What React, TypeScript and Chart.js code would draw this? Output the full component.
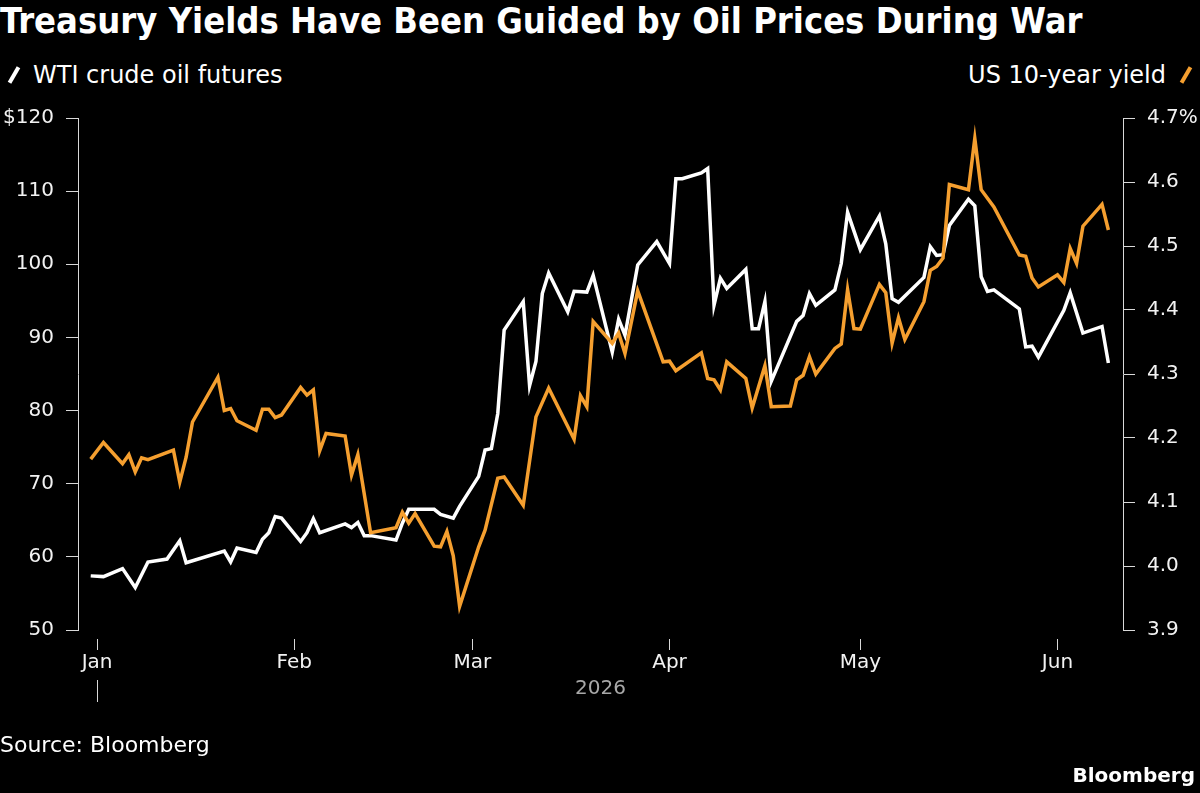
import React, { useEffect, useRef } from "react";
import { Chart, registerables } from "chart.js";

Chart.register(...registerables);

// Days counted from Jan 1, 2026 (day 0). -1 = Dec 31, 2025.
const oilDays = [
  -1, 1, 4, 6, 8, 11, 13, 14, 20, 21, 22, 25, 26, 27, 28, 29, 32, 33, 34, 35,
  39, 40, 41, 42, 43, 47, 48, 49, 53, 54, 56, 57, 60, 61, 62, 63, 64, 67, 68, 69,
  70, 71, 74, 75, 77, 78, 81, 82, 83, 85, 88, 90, 91, 92, 95, 96, 97, 98, 99, 102,
  103, 104, 105, 106, 110, 111, 112, 113, 116, 117, 118, 120, 123, 124, 125, 126, 130, 131, 132, 133,
  134, 137, 138, 139, 140, 141, 145, 146, 147, 148, 152, 153, 155, 158, 159,
];
const oilValues = [
  57.4, 57.3, 58.4, 55.8, 59.3, 59.7, 62.2, 59.2, 60.8, 59.3, 61.2, 60.6, 62.4, 63.3, 65.5, 65.3, 62.1, 63.3, 65.2, 63.3,
  64.5, 64.0, 64.7, 62.9, 62.9, 62.3, 64.6, 66.5, 66.5, 65.8, 65.3, 66.9, 71.0, 74.6, 74.8, 79.6, 91.0, 94.9, 83.4, 86.7,
  96.0, 98.8, 93.5, 96.3, 96.2, 98.5, 88.0, 92.5, 90.3, 99.9, 103.1, 100.1, 111.7, 111.7, 112.5, 113.1, 94.4, 98.1, 96.7, 99.3,
  91.2, 91.2, 94.9, 84.0, 92.2, 93.0, 96.0, 94.4, 96.5, 100.1, 107.1, 102.0, 106.6, 102.8, 95.3, 94.8, 98.2, 102.4, 101.2, 101.3,
  105.3, 108.9, 108.0, 98.3, 96.3, 96.5, 93.9, 88.7, 88.8, 87.3, 93.7, 96.1, 90.6, 91.5, 86.5,
];

const yieldDays = [
  -1, 1, 4, 5, 6, 7, 8, 12, 13, 14, 15, 19, 20, 21, 22, 25, 26, 27, 28, 29,
  32, 33, 34, 35, 36, 39, 40, 41, 43, 47, 48, 49, 50, 53, 54, 55, 56, 57, 60, 61,
  63, 64, 67, 69, 71, 75, 76, 77, 78, 81, 82, 83, 85, 89, 90, 91, 95, 96, 97, 98,
  99, 102, 103, 105, 106, 109, 110, 111, 112, 113, 116, 117, 118, 119, 120, 123, 124, 125, 126, 127,
  130, 131, 132, 133, 134, 137, 138, 139, 141, 145, 146, 147, 148, 151, 152, 153, 154, 155, 158, 159,
];
const yieldValues = [
  4.167, 4.193, 4.16, 4.174, 4.147, 4.169, 4.166, 4.181, 4.131, 4.17, 4.225, 4.295, 4.243, 4.246, 4.227, 4.212, 4.245, 4.245, 4.232, 4.236,
  4.279, 4.267, 4.275, 4.18, 4.207, 4.203, 4.142, 4.174, 4.052, 4.06, 4.084, 4.067, 4.082, 4.031, 4.03, 4.054, 4.016, 3.937, 4.03, 4.056,
  4.137, 4.139, 4.095, 4.233, 4.278, 4.198, 4.266, 4.249, 4.382, 4.348, 4.364, 4.332, 4.43, 4.319, 4.32, 4.305, 4.333, 4.293, 4.291, 4.275,
  4.319, 4.293, 4.247, 4.313, 4.249, 4.25, 4.291, 4.298, 4.327, 4.3, 4.34, 4.347, 4.432, 4.371, 4.37, 4.44, 4.427, 4.348, 4.388, 4.354,
  4.413, 4.462, 4.468, 4.481, 4.596, 4.588, 4.668, 4.588, 4.561, 4.486, 4.484, 4.45, 4.436, 4.455, 4.443, 4.496, 4.473, 4.531, 4.565, 4.525,
];

const monthTickDays = [0, 31, 59, 90, 120, 151];
const monthLabels = ["Jan", "Feb", "Mar", "Apr", "May", "Jun"];
const oilTicks = [50, 60, 70, 80, 90, 100, 110, 120];
const yieldTicks = [3.9, 4.0, 4.1, 4.2, 4.3, 4.4, 4.5, 4.6, 4.7];
const yearLabel = "2026";

const TITLE = "Treasury Yields Have Been Guided by Oil Prices During War";
const OIL_LABEL = "WTI crude oil futures";
const YIELD_LABEL = "US 10-year yield";
const SOURCE = "Source: Bloomberg";
const BRAND = "Bloomberg";

const FONT = "'DejaVu Sans', sans-serif";
const TITLE_FONT = "'DejaVu Sans Condensed', 'DejaVu Sans', sans-serif";
const WHITE = "#ffffff";
const ORANGE = "#f59f2f";
const AXIS = "#d9d9d9";
const TICK_TEXT = "#f2f2f2";

export default function App() {
  const ref = useRef<HTMLCanvasElement | null>(null);

  useEffect(() => {
    const canvas = ref.current;
    if (!canvas) return;

    const yearPlugin = {
      id: "yearMarker",
      afterDraw(chart: any) {
        const { ctx, scales, chartArea } = chart;
        const x = Math.round(scales.x.getPixelForValue(monthTickDays[0])) + 0.5;
        ctx.save();
        ctx.strokeStyle = AXIS;
        ctx.lineWidth = 1;
        ctx.beginPath();
        ctx.moveTo(x, 680);
        ctx.lineTo(x, 702);
        ctx.stroke();
        ctx.fillStyle = "#a8a8a8";
        ctx.font = `20px ${FONT}`;
        ctx.textAlign = "center";
        ctx.textBaseline = "middle";
        ctx.fillText(yearLabel, (chartArea.left + chartArea.right) / 2, 689);
        ctx.restore();
      },
    };

    const chart = new Chart(canvas, {
      type: "line",
      data: {
        datasets: [
          {
            label: YIELD_LABEL,
            data: yieldDays.map((d, i) => ({ x: d, y: yieldValues[i] })),
            yAxisID: "y1",
            borderColor: ORANGE,
            borderWidth: 3.5,
            pointRadius: 0,
            tension: 0,
            borderJoinStyle: "miter",
            order: 0,
          },
          {
            label: OIL_LABEL,
            data: oilDays.map((d, i) => ({ x: d, y: oilValues[i] })),
            yAxisID: "y",
            borderColor: WHITE,
            borderWidth: 3.5,
            pointRadius: 0,
            tension: 0,
            borderJoinStyle: "miter",
            order: 1,
          },
        ],
      },
      options: {
        animation: false,
        responsive: false,
        maintainAspectRatio: false,
        layout: { padding: { top: 118, bottom: 103, left: 0, right: 0 } },
        plugins: { legend: { display: false }, tooltip: { enabled: false } },
        scales: {
          x: {
            type: "linear",
            min: -3,
            max: 161.3,
            afterBuildTicks: (s: any) => {
              s.ticks = monthTickDays.map((v) => ({ value: v }));
            },
            afterFit: (s: any) => {
              s.height = 60;
            },
            ticks: {
              autoSkip: false,
              maxRotation: 0,
              padding: 1,
              color: TICK_TEXT,
              font: { family: FONT, size: 20 },
              callback: (_v: any, i: number) => monthLabels[i],
            },
            grid: {
              drawOnChartArea: false,
              drawTicks: true,
              tickLength: 20,
              tickColor: AXIS,
              tickBorderDash: [0, 9, 11, 100],
            },
            border: { display: false },
          },
          y: {
            position: "left",
            min: 50,
            max: 120,
            afterBuildTicks: (s: any) => {
              s.ticks = oilTicks.map((v) => ({ value: v }));
            },
            afterFit: (s: any) => {
              s.width = 78;
            },
            ticks: {
              padding: 12,
              color: TICK_TEXT,
              font: { family: FONT, size: 20 },
              callback: (v: any) => (v === 120 ? "$120" : String(v)),
            },
            grid: { drawOnChartArea: false, drawTicks: true, tickLength: 12, tickColor: AXIS },
            border: { display: true, color: AXIS, width: 1 },
          },
          y1: {
            position: "right",
            min: 3.9,
            max: 4.7,
            afterBuildTicks: (s: any) => {
              s.ticks = yieldTicks.map((v) => ({ value: v }));
            },
            afterFit: (s: any) => {
              s.width = 77;
            },
            ticks: {
              padding: 12,
              color: TICK_TEXT,
              font: { family: FONT, size: 20 },
              callback: (v: any) => (Math.abs(v - 4.7) < 1e-6 ? "4.7%" : Number(v).toFixed(1)),
            },
            grid: { drawOnChartArea: false, drawTicks: true, tickLength: 12, tickColor: AXIS },
            border: { display: true, color: AXIS, width: 1 },
          },
        },
      },
      plugins: [yearPlugin],
    } as any);

    return () => chart.destroy();
  }, []);

  const text = (extra: React.CSSProperties): React.CSSProperties => ({
    position: "absolute",
    fontFamily: FONT,
    color: WHITE,
    whiteSpace: "nowrap",
    ...extra,
  });

  return (
    <div
      style={{
        position: "absolute",
        left: 0,
        top: 0,
        width: 1200,
        height: 793,
        background: "#000000",
        overflow: "hidden",
      }}
    >
      <div
        style={text({
          left: 0,
          top: 1,
          fontFamily: TITLE_FONT,
          fontSize: 36,
          fontWeight: 700,
          lineHeight: "40px",
        })}
      >
        {TITLE}
      </div>

      <div
        style={{
          position: "absolute",
          left: 12,
          top: 66,
          width: 4,
          height: 18,
          background: WHITE,
          transform: "rotate(30deg)",
        }}
      />
      <div style={text({ left: 33, top: 61, fontSize: 24, lineHeight: "28px" })}>{OIL_LABEL}</div>

      <div style={text({ right: 34, top: 61, fontSize: 24, lineHeight: "28px", textAlign: "right" })}>
        {YIELD_LABEL}
      </div>
      <div
        style={{
          position: "absolute",
          left: 1184,
          top: 66,
          width: 4,
          height: 18,
          background: ORANGE,
          transform: "rotate(30deg)",
        }}
      />

      <canvas
        ref={ref}
        width={1200}
        height={793}
        style={{ position: "absolute", left: 0, top: 0, width: 1200, height: 793 }}
      />

      <div style={text({ left: 0, top: 732, fontSize: 22, lineHeight: "26px" })}>{SOURCE}</div>
      <div style={text({ right: 5, top: 763, fontSize: 20, fontWeight: 700, lineHeight: "24px" })}>{BRAND}</div>
    </div>
  );
}
